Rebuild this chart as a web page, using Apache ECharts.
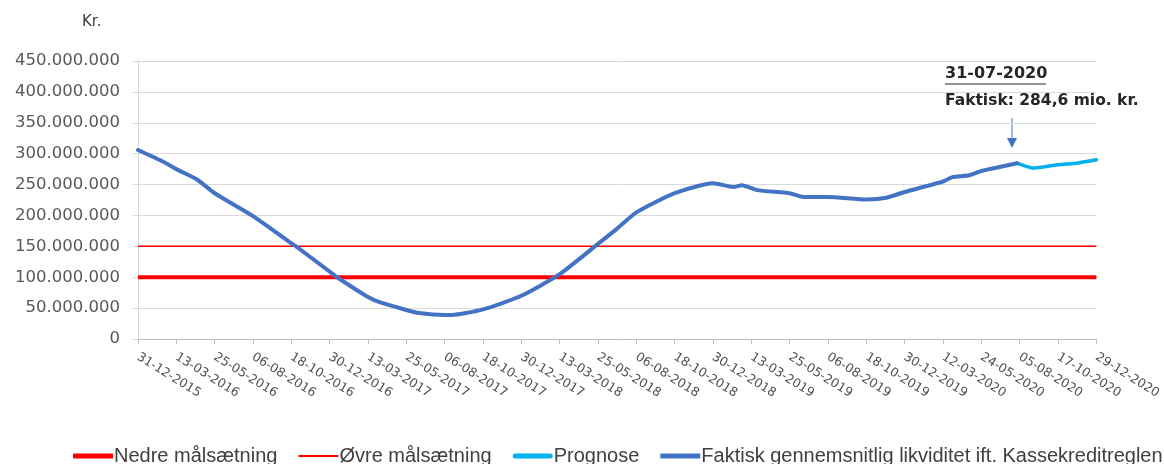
<!DOCTYPE html>
<html>
<head>
<meta charset="utf-8">
<script src="https://cdn.jsdelivr.net/npm/echarts@6/dist/echarts.min.js"></script>
<style>
html,body{margin:0;padding:0;background:#fff;}
#chart{width:1164px;height:464px;}
</style>
</head>
<body>
<div id="chart"></div>
<script>
// X axis: days since 31-12-2015; ticks every 73 days
const tickLabels = ['31-12-2015','13-03-2016','25-05-2016','06-08-2016','18-10-2016','30-12-2016','13-03-2017','25-05-2017','06-08-2017','18-10-2017','30-12-2017','13-03-2018','25-05-2018','06-08-2018','18-10-2018','30-12-2018','13-03-2019','25-05-2019','06-08-2019','18-10-2019','30-12-2019','12-03-2020','24-05-2020','05-08-2020','17-10-2020','29-12-2020'];
const tickStep = 73;
const yTicks = [0,50000000,100000000,150000000,200000000,250000000,300000000,350000000,400000000,450000000];

const faktiskDays   = [0,48,73,111,146,219,292,301,365,379,438,459,511,535,584,597,657,730,803,876,910,949,1022,1095,1134,1150,1179,1241,1267,1314,1387,1425,1460,1533,1551,1583,1606,1674];
const faktiskValues = [306,287,275,259,236,199,155,150,109,100,68,60,47,42,39,39,48,70,105,154,177,205,236,252,246,249,241,236,230,230,226,228.7,238,255,262,265,272,284.6]; // mio. kr.

const prognoseDays   = [1674,1703,1728,1752,1790,1825];
const prognoseValues = [284.6,277,279,282,285,290]; // mio. kr.

const nedreValue = 100000000;
const oevreValue = 150000000;

const legendNames = ['Nedre målsætning','Øvre målsætning','Prognose','Faktisk gennemsnitlig likviditet ift. Kassekreditreglen'];

const xMax = tickStep * (tickLabels.length - 1);
const toPairs = (d, v) => d.map((x, i) => [x, v[i] * 1e6]);

function fmtNum(v){
  if (v === 0) return '0';
  return String(Math.round(v)).replace(/\B(?=(\d{3})+(?!\d))/g, '.');
}

const chart = echarts.init(document.getElementById('chart'));
const option = {
  animation: false,
  backgroundColor: '#ffffff',
  title: {
    text: 'Kr.', left: 77, top: 10,
    textStyle: {fontFamily: 'DejaVu Sans', fontSize: 15, fontWeight: 'normal', color: '#404040'}
  },
  grid: {left: 138, right: 63, top: 61, bottom: 125},
  legend: {
    bottom: -2, left: 73, width: 1150, padding: 0,
    itemWidth: 40, itemHeight: 14, itemGap: 21,
    textStyle: {fontFamily: '"Liberation Sans", sans-serif', fontSize: 20, color: '#404040', padding: [0,0,0,-4]},
    data: [
      {name: legendNames[0], icon: 'path://M0,0H40V5H0Z'},
      {name: legendNames[1], icon: 'path://M0,0H40V2H0Z'},
      {name: legendNames[2], icon: 'path://M2.5,0H37.5A2.5,2.5,0,0,1,37.5,5H2.5A2.5,2.5,0,0,1,2.5,0Z'},
      {name: legendNames[3], icon: 'path://M0,0H40V5H0Z'}
    ]
  },
  xAxis: {
    type: 'value', min: 0, max: xMax, interval: tickStep,
    axisLine: {show: true, lineStyle: {color: '#BFBFBF', width: 1}},
    axisTick: {show: true, length: 5, lineStyle: {color: '#BFBFBF'}},
    splitLine: {show: false},
    axisLabel: {
      rotate: -32, margin: 17,
      fontFamily: 'DejaVu Sans', fontSize: 12.5, color: '#505050',
      formatter: v => tickLabels[Math.round(v / tickStep)] || ''
    }
  },
  yAxis: {
    type: 'value', min: yTicks[0], max: yTicks[yTicks.length-1], interval: yTicks[1]-yTicks[0],
    axisLine: {show: true, lineStyle: {color: '#D9D9D9', width: 1}},
    axisTick: {show: true, length: 5, lineStyle: {color: '#D9D9D9'}},
    splitLine: {show: true, lineStyle: {color: '#D9D9D9', width: 1}},
    axisLabel: {
      margin: 18,
      fontFamily: 'DejaVu Sans', fontSize: 16.5, color: '#595959',
      formatter: v => fmtNum(v)
    }
  },
  series: [
    {
      name: legendNames[0], type: 'line', showSymbol: false, symbol: 'none', z: 2,
      data: [[0, nedreValue], [xMax, nedreValue]],
      lineStyle: {color: '#FF0000', width: 4}, itemStyle: {color: '#FF0000'}
    },
    {
      name: legendNames[1], type: 'line', showSymbol: false, symbol: 'none', z: 2,
      data: [[0, oevreValue], [xMax, oevreValue]],
      lineStyle: {color: '#FF0000', width: 1.5}, itemStyle: {color: '#FF0000'}
    },
    {
      name: legendNames[2], type: 'line', showSymbol: false, symbol: 'none', z: 3,
      smooth: 0.2,
      data: toPairs(prognoseDays, prognoseValues),
      lineStyle: {color: '#00B0F0', width: 3.5, cap: 'round'}, itemStyle: {color: '#00B0F0'}
    },
    {
      name: legendNames[3], type: 'line', showSymbol: false, symbol: 'none', z: 4,
      smooth: 0.2,
      data: toPairs(faktiskDays, faktiskValues),
      lineStyle: {color: '#4472C4', width: 4, cap: 'round', join: 'round'}, itemStyle: {color: '#4472C4'}
    }
  ],
  graphic: [
    {type: 'text', left: 945, top: 66,
      style: {text: '31-07-2020', fontFamily: 'DejaVu Sans', fontWeight: 'bold', fontSize: 16, fill: '#262626'}},
    {type: 'line', shape: {x1: 945, y1: 84, x2: 1046, y2: 84}, style: {stroke: '#262626', lineWidth: 1.2}},
    {type: 'text', left: 945, top: 93,
      style: {text: 'Faktisk: 284,6 mio. kr.', fontFamily: 'DejaVu Sans', fontWeight: 'bold', fontSize: 15.5, fill: '#262626'}},
    {type: 'line', shape: {x1: 1012, y1: 118, x2: 1012, y2: 140}, style: {stroke: '#4472C4', lineWidth: 1}},
    {type: 'polygon', shape: {points: [[1007, 138], [1017, 138], [1012, 148]]}, style: {fill: '#4472C4'}}
  ]
};
chart.setOption(option);
</script>
</body>
</html>
